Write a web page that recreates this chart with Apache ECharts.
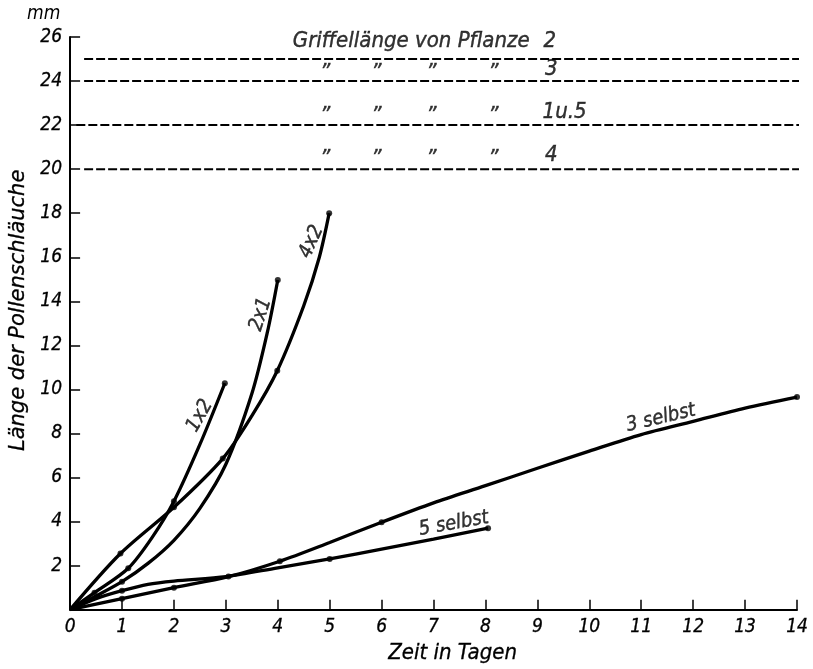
<!DOCTYPE html>
<html>
<head>
<meta charset="utf-8">
<script src="https://cdn.jsdelivr.net/npm/echarts@6/dist/echarts.min.js"></script>
<style>html,body{margin:0;padding:0;background:#fff;}#c{width:813px;height:669px;}</style>
</head>
<body>
<div id="c"></div>
<script>
// ---- data (days, mm) ----
const xTicks = [0,1,2,3,4,5,6,7,8,9,10,11,12,13,14];
const yTicks = [0,2,4,6,8,10,12,14,16,18,20,22,24,26];

const curve1x2 = [[0,0],[0.47,0.77],[1.12,1.88],[1.6,3.35],[2,4.92],[2.5,7.5],[2.98,10.28]];
const dots1x2  = [[0.47,0.77],[1.12,1.88],[2,4.92],[2.98,10.28]];

const curve2x1 = [[0,0],[0.5,0.62],[1,1.27],[1.5,2.1],[2,3.15],[2.5,4.6],[3,6.6],[3.5,9.8],[3.8,12.6],[4,14.97]];
const dots2x1  = [[1,1.27],[4,14.97]];

const curve4x2 = [[0,0],[0.97,2.55],[2,4.65],[2.94,6.86],[3.5,8.8],[3.99,10.85],[4.5,13.8],[4.8,16.0],[4.99,18.0]];
const dots4x2  = [[0.97,2.55],[2,4.65],[2.94,6.86],[3.99,10.85],[4.99,18.0]];

const curve3s = [[0,0],[1,0.5],[2,1.0],[3.05,1.5],[4.04,2.2],[5,3.05],[6,3.97],[7,4.85],[8,5.63],[9,6.42],[10,7.2],[11,7.95],[12,8.55],[13,9.15],[14,9.65]];
const dots3s  = [[1,0.5],[2,1.0],[3.05,1.5],[4.04,2.2],[6,3.97],[14,9.65]];

const curve5s = [[0,0],[0.5,0.5],[1,0.86],[1.5,1.15],[2,1.3],[3,1.5],[4,1.9],[5,2.3],[6,2.75],[7,3.2],[8.05,3.7]];
const dots5s  = [[1,0.86],[5,2.3],[8.05,3.7]];

// style lengths (Griffellänge) per plant
const styleLen = [25, 24, 22, 20];
const styleStart = [0.27, 0.27, 0.12, 0.27];
const styleEnd = 14.05;
const styleRowLabel = ['2', '3', '1u.5', '4'];

const chart = echarts.init(document.getElementById('c'), null, {renderer:'canvas'});

const handFont = 'DejaVu Sans Condensed';

function curve(data){
  return {type:'line', data:data, smooth:0.3, showSymbol:false, symbol:'none',
    lineStyle:{color:'#000', width:3.3}, z:3, silent:true};
}
function dots(data){
  return {type:'scatter', data:data, symbolSize:6, itemStyle:{color:'#000'}, z:4, silent:true};
}
function dashLine(i){
  return {type:'line', data:[[styleStart[i], styleLen[i]],[styleEnd, styleLen[i]]], showSymbol:false, symbol:'none',
    clip:false, lineStyle:{color:'#000', width:2, type:[9,3]}, z:2, silent:true};
}
function textItem(txt, x, y, rot, size, align){
  return {value:[x,y], label:{show:true, formatter:txt, position:'inside', rotate:rot||0,
    fontFamily:handFont, fontStyle:'italic', fontWeight:'normal', fontSize:size||19, color:'#000',
    textBorderColor:'#000', textBorderWidth:0.4, align:align||'center', verticalAlign:'middle'}};
}

const annot = [
  textItem('1x2', 2.5, 8.8, 60, 20),
  textItem('2x1', 3.67, 13.4, 72, 20),
  textItem('4x2', 4.65, 16.7, 66, 20),
  textItem('3 selbst', 11.38, 8.7, 13, 20),
  textItem('5 selbst', 7.39, 3.9, 10, 20),
  textItem('Griffellänge von Pflanze', 4.29, 25.8, 0, 22, 'left'),
  textItem(styleRowLabel[0], 9.24, 25.8, 0, 22)
];
const dittoX = [4.91, 5.9, 6.96, 8.15];
const rowY = [24.55, 22.6, 20.65];
rowY.forEach(function(y, r){
  dittoX.forEach(function(x){ annot.push(textItem('\u201D', x, y - 0.2, 0, 22)); });
  if (r === 1) annot.push(textItem(styleRowLabel[r+1], 9.1, y, 0, 22, 'left'));
  else annot.push(textItem(styleRowLabel[r+1], 9.27, y, 0, 22));
});

const axisFont = {fontFamily:handFont, fontStyle:'italic', fontSize:19, color:'#000', margin:8,
  textBorderColor:'#000', textBorderWidth:0.3};

const option = {
  backgroundColor:'#fff',
  animation:false,
  title:{text:'mm', left:22, top:0, textStyle:{fontFamily:handFont, fontStyle:'italic', fontWeight:'normal', fontSize:19, color:'#000'}},
  grid:{left:56, right:16, top:37, bottom:54, containLabel:false},
  xAxis:{type:'value', min:0, max:14, interval:1,
    name:'Zeit in Tagen', nameLocation:'middle', nameGap:28,
    nameTextStyle:{fontFamily:handFont, fontStyle:'italic', fontSize:22, color:'#000', padding:[0,0,0,38],
      textBorderColor:'#000', textBorderWidth:0.3},
    axisLine:{lineStyle:{color:'#000', width:2}},
    axisTick:{inside:true, length:10, lineStyle:{color:'#000', width:1.5}},
    axisLabel:Object.assign({formatter:function(v){ return xTicks.indexOf(v) >= 0 ? String(v) : ''; }}, axisFont),
    splitLine:{show:false}},
  yAxis:{type:'value', min:0, max:26, interval:2,
    name:'Länge der Pollenschläuche', nameLocation:'middle', nameGap:30, nameRotate:90,
    nameTextStyle:{fontFamily:'DejaVu Sans', fontStyle:'italic', fontSize:21, color:'#000', padding:[0,0,0,26],
      textBorderColor:'#000', textBorderWidth:0.3},
    axisLine:{show:true, lineStyle:{color:'#000', width:2}},
    axisTick:{show:true, inside:true, length:10, lineStyle:{color:'#000', width:1.5}},
    axisLabel:Object.assign({formatter:function(v){ return (v === 0 || yTicks.indexOf(v) < 0) ? '' : String(v); }}, axisFont),
    splitLine:{show:false}},
  series:[
    dashLine(0), dashLine(1), dashLine(2), dashLine(3),
    curve(curve1x2), curve(curve2x1), curve(curve4x2), curve(curve3s), curve(curve5s),
    dots(dots1x2), dots(dots2x1), dots(dots4x2), dots(dots3s), dots(dots5s),
    {type:'scatter', data:annot, symbolSize:0, z:5, silent:true}
  ]
};
chart.setOption(option);
</script>
</body>
</html>
